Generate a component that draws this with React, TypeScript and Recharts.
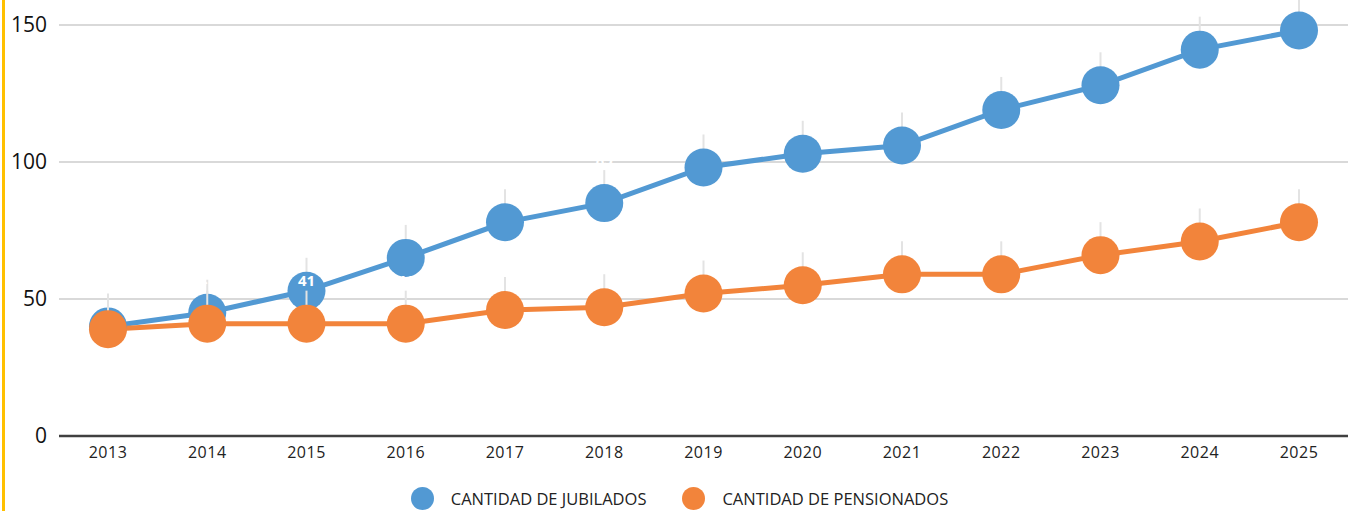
import React from 'react';
import { LineChart, Line, XAxis, YAxis, CartesianGrid, LabelList } from 'recharts';

const years = ['2013', '2014', '2015', '2016', '2017', '2018', '2019', '2020', '2021', '2022', '2023', '2024', '2025'];
const jubilados = [40, 45, 53, 65, 78, 85, 98, 103, 106, 119, 128, 141, 148];
const pensionados = [39, 41, 41, 41, 46, 47, 52, 55, 59, 59, 66, 71, 78];
const yTicks = [0, 50, 100, 150];

const BLUE = '#5299D3';
const ORANGE = '#F2843B';
const FONT = '"Open Sans", sans-serif';

const data = years.map((year, i) => ({
  year,
  jubilados: jubilados[i],
  pensionados: pensionados[i]
}));

const makeDot = (color: string) => (props: any) => {
  const { cx, cy, index } = props;
  if (cx == null || cy == null) return <g key={index} />;
  return (
    <g key={index}>
      <line x1={cx} x2={cx} y1={cy - 33} y2={cy - 18} stroke="#e3e3e3" strokeWidth={2} />
      <circle cx={cx} cy={cy} r={19} fill={color} />
    </g>
  );
};

// white value labels, as in the source (only visible where they sit on a marker)
const renderValueLabel = (props: any) => {
  const { x, y, value, index } = props;
  const ty = y - 43;
  if (ty < 12) return <g key={index} />;
  return (
    <text key={index} x={x} y={ty} dy="0.35em" textAnchor="middle" fill="#fff" fontSize={15} fontWeight="bold" fontFamily={FONT}>
      {value}
    </text>
  );
};

const legendItems = [
  { name: 'CANTIDAD DE JUBILADOS', color: BLUE },
  { name: 'CANTIDAD DE PENSIONADOS', color: ORANGE }
];

export default function App() {
  return (
    <div style={{ position: 'fixed', left: 0, top: 0, width: 1359, height: 511, background: '#fff', overflow: 'hidden' }}>
      <div style={{ position: 'absolute', left: 2, top: 0, width: 3, height: 511, background: '#FFC000' }} />
      <LineChart width={1359} height={511} data={data} margin={{ top: 25, right: 11, left: 0, bottom: 34 }}>
        <CartesianGrid vertical={false} stroke="#d9d9d9" strokeWidth={2} />
        <XAxis
          dataKey="year"
          padding={{ left: 49, right: 49 }}
          tick={{ fontSize: 16, fill: '#222', fontFamily: FONT, letterSpacing: 0.5 }}
          axisLine={{ stroke: '#404040', strokeWidth: 2.5 }}
          tickLine={false}
          tickSize={0}
          tickMargin={11}
          height={41}
        />
        <YAxis
          domain={[0, 150]}
          ticks={yTicks}
          tick={{ fontSize: 21, fill: '#111', fontFamily: FONT }}
          axisLine={false}
          tickLine={false}
          tickSize={0}
          tickMargin={12}
          width={59}
        />
        <Line
          type="linear"
          dataKey="jubilados"
          name="CANTIDAD DE JUBILADOS"
          stroke={BLUE}
          strokeWidth={5}
          dot={makeDot(BLUE)}
          activeDot={false}
          isAnimationActive={false}
        >
          <LabelList dataKey="jubilados" content={renderValueLabel} />
        </Line>
        <Line
          type="linear"
          dataKey="pensionados"
          name="CANTIDAD DE PENSIONADOS"
          stroke={ORANGE}
          strokeWidth={5}
          dot={makeDot(ORANGE)}
          activeDot={false}
          isAnimationActive={false}
        >
          <LabelList dataKey="pensionados" content={renderValueLabel} />
        </Line>
      </LineChart>
      <div style={{ position: 'absolute', left: 0, top: 487, width: 1359, height: 23, display: 'flex', justifyContent: 'center', alignItems: 'center', gap: 36, fontFamily: FONT, fontSize: 16.5, lineHeight: '20px', color: '#222' }}>
        {legendItems.map((item) => (
          <div key={item.name} style={{ display: 'flex', alignItems: 'center' }}>
            <span style={{ width: 23, height: 23, borderRadius: '50%', background: item.color, marginRight: 17, display: 'inline-block' }} />
            <span>{item.name}</span>
          </div>
        ))}
      </div>
    </div>
  );
}
